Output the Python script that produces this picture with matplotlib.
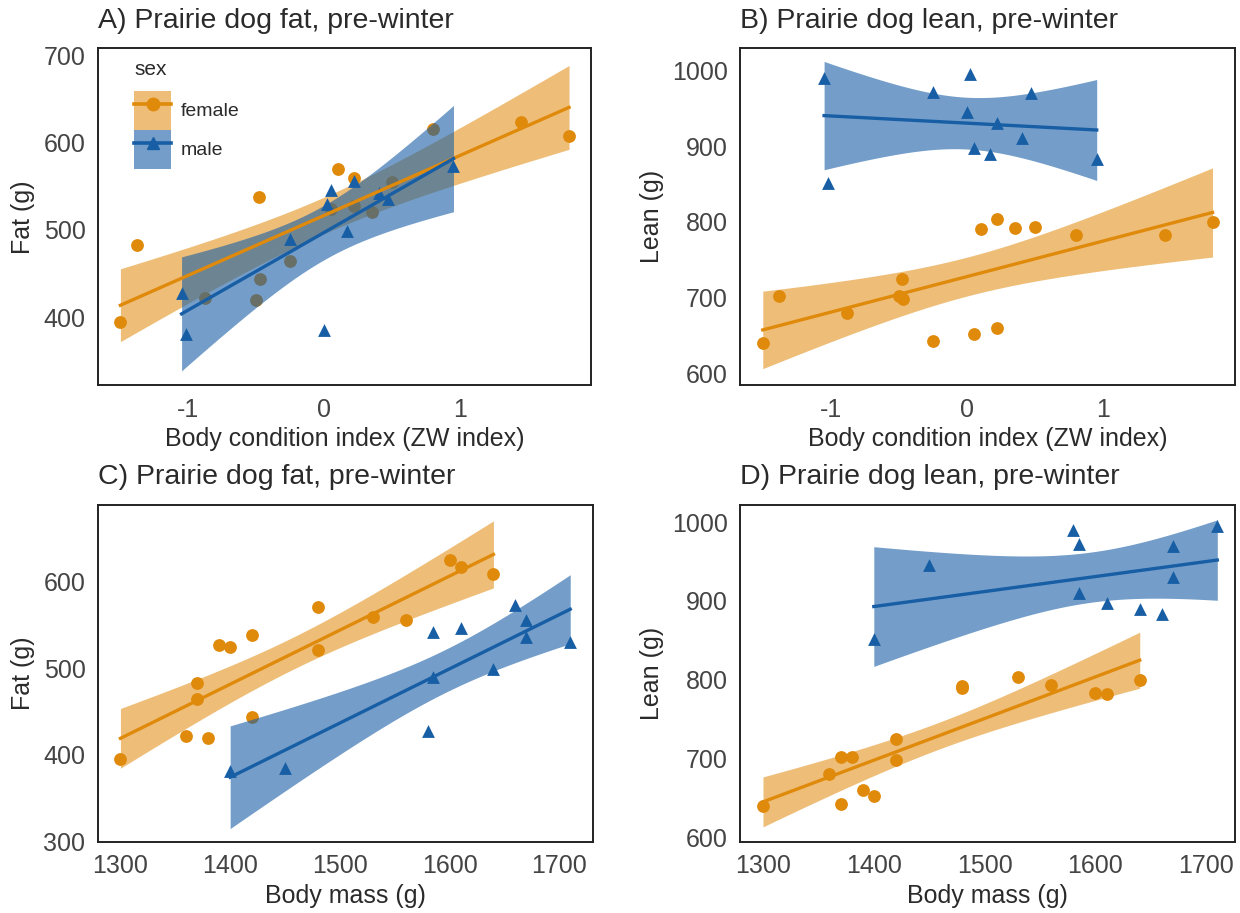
import matplotlib
matplotlib.use("Agg")
import matplotlib.pyplot as plt
from matplotlib.lines import Line2D
from matplotlib.patches import Patch
import numpy as np

# per-animal values
female_mass = [1300, 1360, 1370, 1370, 1380, 1390, 1400, 1420, 1420, 1480, 1480, 1530, 1560, 1600, 1610, 1640]
female_fat = [395, 422, 483, 464, 420, 527, 524, 538, 444, 570, 521, 559, 555, 624, 616, 608]
female_lean = [640, 680, 702, 642, 702, 660, 652, 725, 698, 790, 792, 803, 793, 783, 782, 800]
female_zw = [-1.5, -0.88, -1.38, -0.25, -0.5, 0.22, 0.05, -0.48, -0.47, 0.1, 0.35, 0.22, 0.5, 1.45, 0.8, 1.8]

male_mass = [1400, 1450, 1580, 1585, 1585, 1610, 1640, 1660, 1670, 1670, 1710]
male_fat = [381, 385, 428, 490, 542, 546, 499, 573, 556, 536, 530]
male_lean = [851, 945, 990, 972, 910, 897, 890, 883, 930, 970, 995]
male_zw = [-1.02, 0.0, -1.05, -0.25, 0.4, 0.05, 0.17, 0.95, 0.22, 0.47, 0.02]

sexes = ["female", "male"]
colours = {"female": "#E08A0C", "male": "#175EA5"}
markers = {"female": "o", "male": "^"}
band_alpha = {"female": 0.55, "male": 0.6}

data = {
    "female": {"mass": female_mass, "fat": female_fat, "lean": female_lean, "zw": female_zw},
    "male": {"mass": male_mass, "fat": male_fat, "lean": male_lean, "zw": male_zw},
}

TEXT = "#2a2a2a"
TICK = "#444444"
plt.rcParams["font.family"] = ["Liberation Sans", "DejaVu Sans"]
plt.rcParams["axes.unicode_minus"] = False
plt.rcParams["text.color"] = TEXT
plt.rcParams["axes.labelcolor"] = TEXT
plt.rcParams["xtick.color"] = TICK
plt.rcParams["ytick.color"] = TICK


def fit_band(x, y, n=100):
    # OLS fit with 95% confidence band for the mean
    x = np.asarray(x, float)
    y = np.asarray(y, float)
    slope, icept = np.polyfit(x, y, 1)
    grid = np.linspace(x.min(), x.max(), n)
    resid = y - (slope * x + icept)
    dof = len(x) - 2
    s = np.sqrt(np.sum(resid ** 2) / dof)
    sxx = np.sum((x - x.mean()) ** 2)
    se = s * np.sqrt(1 / len(x) + (grid - x.mean()) ** 2 / sxx)
    t = {9: 2.262, 14: 2.145}.get(dof, 2.1)
    fit = slope * grid + icept
    return grid, fit, fit - t * se, fit + t * se


panels = [
    ("A) Prairie dog fat, pre-winter", "zw", "fat", "Body condition index (ZW index)", "Fat (g)",
     [0.079, 0.578, 0.398, 0.369], (-1.665, 1.965), (322, 708), [-1, 0, 1], [400, 500, 600, 700]),
    ("B) Prairie dog lean, pre-winter", "zw", "lean", "Body condition index (ZW index)", "Lean (g)",
     [0.597, 0.578, 0.399, 0.369], (-1.665, 1.965), (584, 1029), [-1, 0, 1], [600, 700, 800, 900, 1000]),
    ("C) Prairie dog fat, pre-winter", "mass", "fat", "Body mass (g)", "Fat (g)",
     [0.079, 0.078, 0.399, 0.369], (1279.5, 1730.5), (300, 688), [1300, 1400, 1500, 1600, 1700], [300, 400, 500, 600]),
    ("D) Prairie dog lean, pre-winter", "mass", "lean", "Body mass (g)", "Lean (g)",
     [0.597, 0.078, 0.399, 0.369], (1279.5, 1726), (594, 1022), [1300, 1400, 1500, 1600, 1700], [600, 700, 800, 900, 1000]),
]

fig = plt.figure(figsize=(12.4, 9.13), dpi=100)

for title, xk, yk, xlabel, ylabel, rect, xlim, ylim, xticks, yticks in panels:
    ax = fig.add_axes(rect)
    for sex in sexes:
        x = data[sex][xk]
        y = data[sex][yk]
        c = colours[sex]
        ax.scatter(x, y, s=85, marker=markers[sex], color=c, linewidths=0, zorder=2)
        gx, fit, lo, hi = fit_band(x, y)
        ax.fill_between(gx, lo, hi, color=c, alpha=band_alpha[sex], linewidth=0, zorder=2)
        ax.plot(gx, fit, color=c, linewidth=2.4, zorder=3)

    ax.set_xlim(*xlim)
    ax.set_ylim(*ylim)
    ax.set_xticks(xticks)
    ax.set_yticks(yticks)
    ax.tick_params(labelsize=18, length=0, pad=9)
    ax.set_xlabel(xlabel, fontsize=18, labelpad=4)
    ax.set_ylabel(ylabel, fontsize=18, labelpad=6)
    ax.set_title(title, loc="left", fontsize=20.5, pad=15)
    for sp in ax.spines.values():
        sp.set_color("#222222")
        sp.set_linewidth(1.4)

    if title.startswith("A"):
        handles = [
            (Patch(color=colours[s], alpha=band_alpha[s], linewidth=0),
             Line2D([], [], color=colours[s], linewidth=2.6, marker=markers[s], markersize=9))
            for s in sexes
        ]
        leg = ax.legend(handles, sexes, title="sex", loc="upper left", frameon=False,
                        bbox_to_anchor=(0.058, 0.99), borderaxespad=0.0,
                        fontsize=14, title_fontsize=15, handlelength=1.9, handleheight=2.7,
                        labelspacing=0.0, handletextpad=0.5)
        leg._legend_box.align = "left"
        leg._legend_box.sep = 9

fig.savefig("out.png", dpi=100)
